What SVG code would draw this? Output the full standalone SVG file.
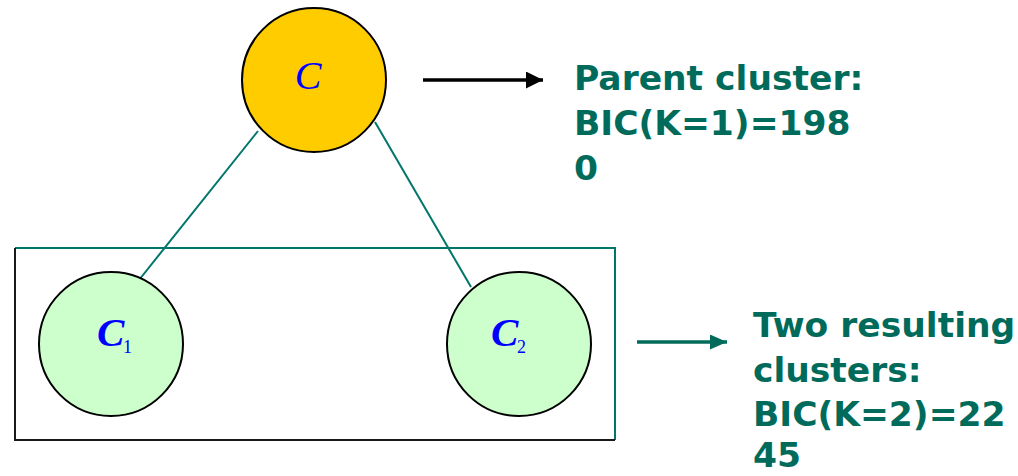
<svg xmlns="http://www.w3.org/2000/svg" width="1018" height="476" viewBox="0 0 1018 476">
<style>
.circ{stroke:#000;stroke-width:2}
.lbl{font-family:"Liberation Serif","Times New Roman",serif;font-style:italic;fill:#0000FF}
.sub{font-family:"Liberation Serif","Times New Roman",serif;fill:#0000FF;font-size:18px}
.note{font-family:"DejaVu Sans",Verdana,sans-serif;font-weight:bold;font-size:34.5px;fill:#006B5B}
.edge{stroke:#00766A;stroke-width:2;fill:none}
</style>
<defs>
<marker id="ah-black" markerWidth="17" markerHeight="17" refX="17" refY="8.5" orient="auto" markerUnits="userSpaceOnUse">
<path d="M0,0 L17,8.5 L0,17 Z" fill="#000"/>
</marker>
<marker id="ah-teal" markerWidth="17" markerHeight="15" refX="17" refY="7.5" orient="auto" markerUnits="userSpaceOnUse">
<path d="M0,0 L17,7.5 L0,15 Z" fill="#006B5B"/>
</marker>
</defs>
<g id="group-box">
<path d="M15,248 L615,248 L615,440" fill="none" stroke="#00766A" stroke-width="2"/>
<path d="M15,248 L15,440 L615,440" fill="none" stroke="#1a1a1a" stroke-width="2"/>
</g>
<g id="connectors">
<line class="edge" x1="258" y1="131" x2="139" y2="280"/>
<line class="edge" x1="375" y1="122" x2="471" y2="287"/>
<line x1="423" y1="80" x2="543" y2="80" stroke="#000" stroke-width="3.5" marker-end="url(#ah-black)"/>
<line x1="637" y1="342" x2="727" y2="342" stroke="#006B5B" stroke-width="3.5" marker-end="url(#ah-teal)"/>
</g>
<g id="node-C">
<circle class="circ" cx="314" cy="80" r="72" fill="#FFCC00"/>
<text class="lbl" x="308" y="89" font-size="40" text-anchor="middle">C</text>
</g>
<g id="node-C1">
<circle class="circ" cx="111" cy="344" r="72" fill="#CCFFCC"/>
<text class="lbl" x="97" y="346" font-size="41" font-weight="bold">C</text>
<text class="sub" x="123" y="353">1</text>
</g>
<g id="node-C2">
<circle class="circ" cx="519" cy="344" r="72" fill="#CCFFCC"/>
<text class="lbl" x="491" y="346" font-size="41" font-weight="bold">C</text>
<text class="sub" x="517" y="353">2</text>
</g>
<g id="note-parent">
<text class="note" x="574" y="90">Parent cluster:</text>
<text class="note" x="574" y="135">BIC(K=1)=198</text>
<text class="note" x="574" y="180">0</text>
</g>
<g id="note-children">
<text class="note" x="753" y="337">Two resulting</text>
<text class="note" x="753" y="382">clusters:</text>
<text class="note" x="753" y="426">BIC(K=2)=22</text>
<text class="note" x="753" y="467">45</text>
</g>
</svg>
